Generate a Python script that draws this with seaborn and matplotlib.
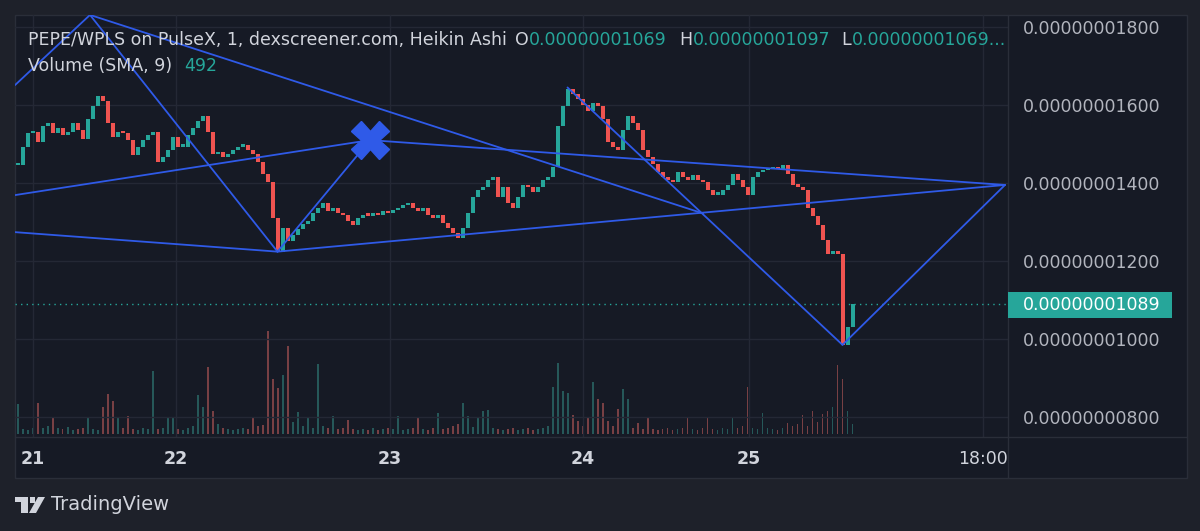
import matplotlib
matplotlib.use("Agg")
import matplotlib.pyplot as plt
import numpy as np
import pandas as pd
import seaborn as sns
from matplotlib.patches import Rectangle, Polygon
from matplotlib.lines import Line2D
from matplotlib.ticker import FuncFormatter

# price closes, units of 1e-9 (one candle per step)
close = [
    14.46, 14.93, 15.27, 15.32, 15.06, 15.45, 15.53, 15.27, 15.40, 15.24,
    15.32, 15.53, 15.37, 15.14, 15.63, 15.97, 16.23, 16.10, 15.53, 15.19,
    15.32, 15.27, 15.11, 14.72, 14.93, 15.11, 15.24, 15.32, 14.54, 14.67,
    14.85, 15.19, 14.93, 14.93, 15.24, 15.40, 15.58, 15.71, 15.32, 14.74,
    14.80, 14.67, 14.74, 14.85, 14.93, 14.98, 14.85, 14.74, 14.54, 14.22,
    14.02, 13.10, 12.24, 12.84, 12.51, 12.66, 12.82, 12.95, 13.03, 13.23,
    13.36, 13.49, 13.29, 13.36, 13.23, 13.18, 13.03, 12.92, 13.10, 13.18,
    13.16, 13.23, 13.18, 13.29, 13.23, 13.31, 13.36, 13.44, 13.49, 13.36,
    13.29, 13.36, 13.18, 13.10, 13.18, 12.97, 12.84, 12.71, 12.58, 12.84,
    13.23, 13.63, 13.81, 13.89, 14.07, 14.15, 13.63, 13.89, 13.49, 13.36,
    13.63, 13.96, 13.89, 13.76, 13.89, 14.07, 14.15, 14.41, 15.45, 15.97,
    16.41, 16.28, 16.15, 15.99, 15.84, 16.05, 15.97, 15.63, 15.06, 14.93,
    14.85, 15.37, 15.71, 15.53, 15.37, 14.85, 14.67, 14.48, 14.28, 14.15,
    14.07, 14.02, 14.28, 14.15, 14.07, 14.20, 14.07, 14.02, 13.81, 13.70,
    13.70, 13.81, 13.94, 14.22, 14.07, 13.89, 13.70, 14.15, 14.28, 14.33,
    14.35, 14.41, 14.35, 14.46, 14.22, 13.96, 13.91, 13.83, 13.36, 13.16,
    12.92, 12.53, 12.19, 12.24, 12.19, 9.85, 10.32, 10.89,
]

volume = [
    30, 5, 4, 6, 31, 6, 8, 16, 6, 5,
    7, 4, 5, 6, 16, 5, 4, 27, 40, 33,
    16, 6, 18, 5, 4, 6, 5, 63, 5, 6,
    16, 17, 5, 4, 6, 8, 39, 27, 67, 23,
    10, 6, 5, 4, 5, 6, 5, 17, 8, 9,
    103, 55, 46, 59, 88, 12, 22, 8, 16, 6,
    70, 8, 6, 18, 5, 6, 14, 5, 4, 5,
    4, 6, 4, 5, 6, 5, 18, 4, 5, 6,
    16, 5, 4, 6, 21, 5, 6, 8, 10, 31,
    18, 7, 16, 23, 24, 6, 5, 4, 5, 6,
    4, 5, 6, 4, 5, 6, 8, 47, 71, 43,
    41, 19, 13, 8, 16, 52, 35, 31, 13, 8,
    25, 45, 35, 6, 11, 5, 16, 5, 4, 5,
    6, 4, 5, 6, 16, 5, 4, 6, 16, 5,
    4, 6, 5, 16, 6, 8, 47, 6, 5, 21,
    6, 5, 4, 6, 11, 8, 10, 19, 8, 23,
    12, 20, 23, 27, 69, 55, 23, 10,
]

day_ticks = [3.1, 31.7, 74.5, 113.1, 146.3, 193.1]
day_labels = ["21", "22", "23", "24", "25", "18:00"]
price_ticks = [8, 10, 12, 14, 16, 18]
last_price = 10.89
ohl = ["0.00000001069", "0.00000001097", "0.00000001069..."]
vol_sma = "492"

# drawing anchors (bar, price)
pts = {
    "L1": (-0.5, 16.51), "A": (14.5, 18.31), "B": (52, 12.24),
    "X": (70.5, 15.10), "E": (137.1, 13.22), "P": (110, 16.45),
    "D": (165, 9.85), "R": (197.5, 13.95), "L7": (-0.5, 13.69),
    "L9": (-0.5, 12.74),
}
segments = [("L1", "A"), ("A", "B"), ("A", "E"), ("B", "X"), ("L7", "X"),
            ("X", "R"), ("L9", "B"), ("B", "R"), ("P", "D"), ("D", "R")]

OUTER = "#1e212a"
PANEL = "#161a25"
BORDER = "#2a2e39"
GRID = "#242835"
UP = "#26a69a"
DOWN = "#ef5350"
BLUE = "#2f5ae8"
TXT = "#d1d4dc"
AXTXT = "#b2b5be"

sns.set_theme(style="dark", rc={"axes.facecolor": PANEL, "figure.facecolor": OUTER})
plt.rcParams["font.family"] = ["DejaVu Sans"]

W, H = 1200, 531
fig = plt.figure(figsize=(12, 5.31), dpi=100)


def fx(x):
    return x / W


def fy(y):
    return 1 - y / H


# widget frame
fig.patches.append(Rectangle((fx(15), fy(478)), fx(1187) - fx(15), fy(15) - fy(478),
                             transform=fig.transFigure, facecolor=PANEL,
                             edgecolor=BORDER, lw=1, zorder=-1))

rect = [fx(15), fy(437), fx(1008) - fx(15), fy(15) - fy(437)]
ax_vol = fig.add_axes(rect, zorder=1)
ax = fig.add_axes(rect, sharex=ax_vol, zorder=2)
ax.patch.set_visible(False)
ax_vol.patch.set_visible(False)

c = np.array(close)
o = np.r_[c[0], c[:-1]]
up = c >= o
idx = np.arange(len(c))

vol_df = pd.DataFrame({"bar": idx, "volume": volume,
                       "side": np.where(up, "up", "down")})
sns.barplot(data=vol_df, x="bar", y="volume", hue="side",
            palette={"up": UP, "down": DOWN}, native_scale=True, width=0.4,
            alpha=0.5, legend=False, errorbar=None, linewidth=0, ax=ax_vol)
ax_vol.set_ylim(-3, 419)
ax_vol.axis("off")

# candles
ax.bar(idx, np.maximum(np.abs(c - o), 0.06), bottom=np.minimum(o, c), width=0.8,
       color=np.where(up, UP, DOWN), linewidth=0, zorder=3)

for a, b in segments:
    (x0, y0), (x1, y1) = pts[a], pts[b]
    ax.plot([x0, x1], [y0, y1], color=BLUE, lw=1.3, zorder=4, solid_capstyle="round")
ax.plot(*pts["X"], marker="X", ms=27, color=BLUE, mec=BLUE, zorder=5)

ax.axhline(last_price, color=UP, lw=1, ls=(0, (1, 3)), zorder=2)

ax.set_xlim(-0.5, 198.1)
ax.set_ylim(7.487, 18.308)
ax.set_yticks(price_ticks)
ax.yaxis.set_major_formatter(FuncFormatter(lambda v, p: f"{v * 1e-9:.11f}"))
ax.yaxis.tick_right()
ax.tick_params(axis="y", length=0, pad=11, labelsize=12.5, labelcolor=AXTXT)
ax.set_xticks(day_ticks, day_labels)
ax.tick_params(axis="x", length=0, pad=9, labelsize=12.5, labelcolor=TXT)
for lbl in ax.get_xticklabels():
    lbl.set_fontweight("normal" if ":" in lbl.get_text() else "bold")
ax.grid(True, color=GRID, lw=1, zorder=0)
for s in ax.spines.values():
    s.set_visible(False)
ax.set_xlabel("")
ax.set_ylabel("")

# separators
fig.lines.append(Line2D([fx(1008), fx(1008)], [fy(15), fy(478)], transform=fig.transFigure,
                        color=BORDER, lw=1))
fig.lines.append(Line2D([fx(15), fx(1187)], [fy(437), fy(437)], transform=fig.transFigure,
                        color=BORDER, lw=1))

# last price label
fig.patches.append(Rectangle((fx(1008), fy(318)), fx(1172) - fx(1008), fy(292) - fy(318),
                             transform=fig.transFigure, facecolor=UP, lw=0, zorder=4))
fig.text(fx(1023), fy(305), f"{last_price * 1e-9:.11f}", color="white",
         fontsize=12.5, va="center", ha="left", zorder=5)

# header legend
hy = fy(40)
fig.text(fx(28), hy, "PEPE/WPLS on PulseX, 1, dexscreener.com, Heikin Ashi",
         color=TXT, fontsize=12.5, va="center")
for lx, lab, vx, val in [(515, "O", 529, ohl[0]), (679, "H", 693, ohl[1]),
                         (841, "L", 852, ohl[2])]:
    fig.text(fx(lx), hy, lab, color=TXT, fontsize=12.5, va="center")
    fig.text(fx(vx), hy, val, color=UP, fontsize=12.5, va="center")
fig.text(fx(28), fy(66), "Volume (SMA, 9)", color=TXT, fontsize=12.5, va="center")
fig.text(fx(184), fy(66), vol_sma, color=UP, fontsize=12.5, va="center")

# TradingView logo
LOGO = "#d1d4dc"
fig.patches.append(Rectangle((fx(15), fy(502)), fx(28) - fx(15), fy(497) - fy(502),
                             transform=fig.transFigure, facecolor=LOGO, lw=0))
fig.patches.append(Rectangle((fx(21), fy(513)), fx(28) - fx(21), fy(497) - fy(513),
                             transform=fig.transFigure, facecolor=LOGO, lw=0))
fig.patches.append(Polygon([(fx(29), fy(513)), (fx(36), fy(513)), (fx(45), fy(497)),
                            (fx(38), fy(497))], closed=True,
                           transform=fig.transFigure, facecolor=LOGO, lw=0))
fig.patches.append(Rectangle((fx(29.5), fy(503)), fx(35) - fx(29.5), fy(497) - fy(503),
                             transform=fig.transFigure, facecolor=LOGO, lw=0))
fig.text(fx(51), fy(505), "TradingView", color=LOGO, fontsize=14, va="center")

fig.savefig("out.png", dpi=100, facecolor=OUTER)
